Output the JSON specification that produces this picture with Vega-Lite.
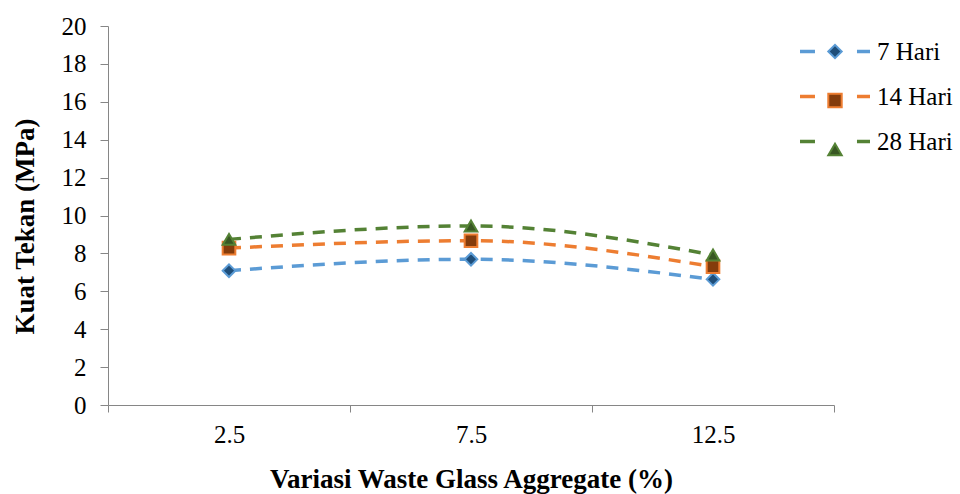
{
  "$schema": "https://vega.github.io/schema/vega-lite/v6.json",
  "width": 726,
  "height": 379,
  "autosize": {"type": "none"},
  "padding": {"left": 108, "top": 26, "right": 126, "bottom": 89},
  "background": "white",
  "config": {
    "font": "Liberation Serif",
    "view": {"stroke": null},
    "axis": {
      "grid": false,
      "domainColor": "#868686",
      "tickColor": "#868686",
      "domainWidth": 1,
      "tickWidth": 1,
      "labelFont": "Liberation Serif",
      "labelFontSize": 25,
      "labelColor": "#000000",
      "titleFont": "Liberation Serif",
      "titleFontSize": 27,
      "titleFontWeight": "bold",
      "titleColor": "#000000"
    },
    "legend": {
      "labelFont": "Liberation Serif",
      "labelFontSize": 25,
      "labelColor": "#000000",
      "padding": 0
    }
  },
  "data": {
    "values": [
      {"x": "2.5", "series": "7 Hari", "v": 7.09},
      {"x": "7.5", "series": "7 Hari", "v": 7.69},
      {"x": "12.5", "series": "7 Hari", "v": 6.63},
      {"x": "2.5", "series": "14 Hari", "v": 8.28},
      {"x": "7.5", "series": "14 Hari", "v": 8.67},
      {"x": "12.5", "series": "14 Hari", "v": 7.3},
      {"x": "2.5", "series": "28 Hari", "v": 8.74},
      {"x": "7.5", "series": "28 Hari", "v": 9.45},
      {"x": "12.5", "series": "28 Hari", "v": 7.92}
    ]
  },
  "encoding": {
    "x": {
      "field": "x",
      "type": "nominal",
      "sort": null,
      "scale": {"paddingInner": 0, "paddingOuter": 0},
      "axis": {
        "title": "Variasi Waste Glass Aggregate (%)",
        "labelAngle": 0,
        "tickBand": "extent",
        "tickSize": 7,
        "labelPadding": 10,
        "titlePadding": 19
      }
    },
    "y": {
      "field": "v",
      "type": "quantitative",
      "scale": {"domain": [0, 20], "nice": false, "zero": true},
      "axis": {
        "title": "Kuat Tekan (MPa)",
        "values": [0, 2, 4, 6, 8, 10, 12, 14, 16, 18, 20],
        "tickSize": 8,
        "labelPadding": 14,
        "titlePadding": 22,
        "titleY": 200
      }
    }
  },
  "layer": [
    {
      "mark": {"type": "line", "interpolate": "monotone", "strokeWidth": 3.5, "strokeDash": [12, 9]},
      "encoding": {
        "stroke": {
          "field": "series",
          "type": "nominal",
          "scale": {"domain": ["7 Hari", "14 Hari", "28 Hari"], "range": ["#5B9BD5", "#ED7D31", "#548235"]},
          "legend": {
            "title": null,
            "orient": "none",
            "legendX": 711,
            "legendY": 9.5,
            "symbolType": "M-2.5,0H-1.43M1.57,0H2.5",
            "symbolSize": 784,
            "symbolStrokeWidth": 3.5,
            "symbolDash": [1000, 0],
            "rowPadding": 16,
            "labelOffset": 26
          }
        }
      }
    },
    {
      "mark": {"type": "point", "filled": true, "size": 160, "strokeWidth": 2, "opacity": 1},
      "encoding": {
        "stroke": {
          "field": "series",
          "type": "nominal",
          "legend": {
            "title": null,
            "orient": "none",
            "legendX": 714.5,
            "legendY": 13,
            "symbolSize": 180,
            "symbolStrokeWidth": 2,
            "rowPadding": 23,
            "labelExpr": "''"
          }
        },
        "fill": {
          "field": "series",
          "type": "nominal",
          "scale": {"domain": ["7 Hari", "14 Hari", "28 Hari"], "range": ["#1F4E79", "#843C0C", "#385723"]},
          "legend": {
            "title": null,
            "orient": "none",
            "legendX": 714.5,
            "legendY": 13,
            "symbolSize": 180,
            "symbolStrokeWidth": 2,
            "rowPadding": 23,
            "labelExpr": "''"
          }
        },
        "shape": {
          "field": "series",
          "type": "nominal",
          "scale": {"domain": ["7 Hari", "14 Hari", "28 Hari"], "range": ["diamond", "square", "triangle-up"]},
          "legend": {
            "title": null,
            "orient": "none",
            "legendX": 714.5,
            "legendY": 13,
            "symbolSize": 180,
            "symbolStrokeWidth": 2,
            "rowPadding": 23,
            "labelExpr": "''"
          }
        }
      }
    }
  ],
  "resolve": {"legend": {"stroke": "independent", "fill": "independent", "shape": "independent"}}
}
